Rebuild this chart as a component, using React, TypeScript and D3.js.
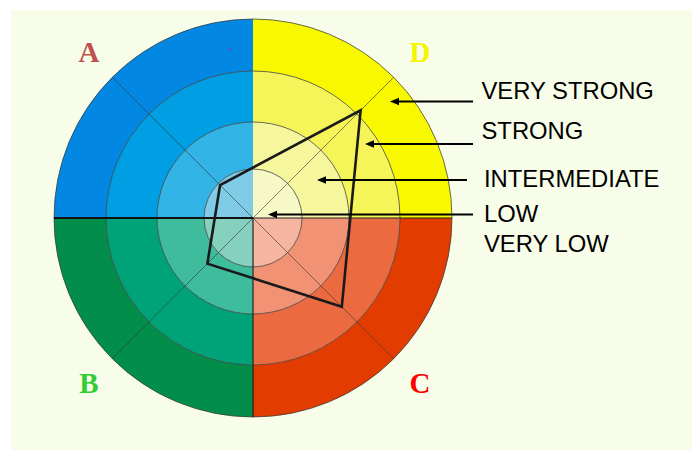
import React, { useRef, useEffect } from "react";
import * as d3 from "d3";

// quadrants, clockwise from 12 o'clock
const quadrants = ["D", "C", "B", "A"];
const quadrantColors = {
  D: ["#f6f9c6", "#f6f79c", "#f5f55a", "#f8f800"],
  C: ["#f5b5a0", "#f29274", "#eb6a40", "#e23c00"],
  B: ["#86d0be", "#3ebc9c", "#00a378", "#028e4a"],
  A: ["#80cbe6", "#33b4e6", "#009ee2", "#0288e3"],
};
const letterColors = { A: "#c0504d", B: "#33cc33", C: "#ff0000", D: "#f5f500" };

// levels 0..4 (ring boundaries)
const levels = [0, 1, 2, 3, 4];
const levelNames = ["VERY STRONG", "STRONG", "INTERMEDIATE", "LOW", "VERY LOW"];

// polygon values on the diagonals (D, C, B, A)
const profile = [3.1, 2.58, 1.33, 0.95];

const App = () => {
  const svgRef = useRef<SVGSVGElement>(null);

  useEffect(() => {
    const width = 692;
    const height = 450;
    const cx = 253;
    const cy = 218;

    const svg = d3.select(svgRef.current);
    svg.selectAll("*").remove();

    svg
      .append("rect")
      .attr("x", 11)
      .attr("y", 10)
      .attr("width", width - 11)
      .attr("height", height - 10)
      .attr("fill", "#f7fde8");

    // radius per level
    const r = d3.scaleLinear().domain(levels).range([0, 49, 96, 147, 199]);

    const g = svg.append("g").attr("transform", `translate(${cx},${cy})`);

    const arc = d3.arc<any>();
    quadrants.forEach((q, i) => {
      const a0 = (i * Math.PI) / 2;
      const a1 = a0 + Math.PI / 2;
      for (let k = 3; k >= 0; k--) {
        g.append("path")
          .attr(
            "d",
            arc({
              innerRadius: r(k),
              outerRadius: r(k + 1),
              startAngle: a0,
              endAngle: a1,
            })
          )
          .attr("fill", quadrantColors[q][k]);
      }
    });

    // rings
    levels.slice(1).forEach((l) => {
      g.append("circle")
        .attr("r", r(l))
        .attr("fill", "none")
        .attr("stroke", "#3a3a3a")
        .attr("stroke-opacity", 0.75)
        .attr("stroke-width", 1);
    });

    // diagonals
    [1, 3, 5, 7].forEach((m) => {
      const a = (m * Math.PI) / 4;
      g.append("line")
        .attr("x1", 0)
        .attr("y1", 0)
        .attr("x2", r(4) * Math.sin(a))
        .attr("y2", -r(4) * Math.cos(a))
        .attr("stroke", "#333")
        .attr("stroke-opacity", 0.6)
        .attr("stroke-width", 1);
    });

    // cross lines
    g.append("line")
      .attr("x1", -r(4))
      .attr("x2", 0)
      .attr("y1", 0)
      .attr("y2", 0)
      .attr("stroke", "#111")
      .attr("stroke-width", 1.8);
    g.append("line")
      .attr("x1", 0)
      .attr("x2", r(4))
      .attr("y1", 0)
      .attr("y2", 0)
      .attr("stroke", "#222")
      .attr("stroke-width", 1.2);
    g.append("line")
      .attr("x1", 0)
      .attr("x2", 0)
      .attr("y1", 0)
      .attr("y2", r(4))
      .attr("stroke", "#222")
      .attr("stroke-width", 1.2);

    // profile polygon
    const radial = d3
      .lineRadial<number>()
      .angle((_, i) => ((2 * i + 1) * Math.PI) / 4)
      .radius((d) => r(d))
      .curve(d3.curveLinearClosed);
    g.append("path")
      .attr("d", radial(profile))
      .attr("fill", "none")
      .attr("stroke", "#1a1a1a")
      .attr("stroke-width", 2.6)
      .attr("stroke-linejoin", "miter");

    // small dot
    svg.append("circle").attr("cx", 230).attr("cy", 49).attr("r", 1.5).attr("fill", "#5a4fd0");

    // quadrant letters
    const letterPos = { A: [89, 62], D: [420, 62], B: [89, 393], C: [420, 393] };
    quadrants.forEach((q) => {
      svg
        .append("text")
        .attr("x", letterPos[q][0])
        .attr("y", letterPos[q][1])
        .attr("text-anchor", "middle")
        .attr("fill", letterColors[q])
        .style("font-family", "'Liberation Serif', 'Times New Roman', serif")
        .style("font-weight", "bold")
        .style("font-size", "29px")
        .text(q);
    });

    // arrows and level labels
    const arrows = [
      { tip: 390, end: 473, y: 101.5 },
      { tip: 365, end: 473, y: 144 },
      { tip: 317, end: 467, y: 180 },
      { tip: 268, end: 473, y: 214.5 },
    ];
    arrows.forEach((a) => {
      svg
        .append("line")
        .attr("x1", a.end)
        .attr("x2", a.tip + 6)
        .attr("y1", a.y)
        .attr("y2", a.y)
        .attr("stroke", "#000")
        .attr("stroke-width", 2.2);
      svg
        .append("path")
        .attr("d", `M${a.tip},${a.y} L${a.tip + 9},${a.y - 3.8} L${a.tip + 9},${a.y + 3.8} Z`)
        .attr("fill", "#000");
    });

    const labelPos = [
      [481.5, 99],
      [481.5, 139],
      [484, 186.5],
      [484, 222.3],
      [484, 251.7],
    ];
    levelNames.forEach((name, i) => {
      svg
        .append("text")
        .attr("x", labelPos[i][0])
        .attr("y", labelPos[i][1])
        .attr("fill", "#000")
        .style("font-family", "'Liberation Sans', Arial, sans-serif")
        .style("font-size", "23.8px")
        .text(name);
    });
  }, []);

  return (
    <svg
      ref={svgRef}
      width={692}
      height={450}
      style={{ position: "absolute", left: 0, top: 0, background: "#fff" }}
    ></svg>
  );
};

export default App;
